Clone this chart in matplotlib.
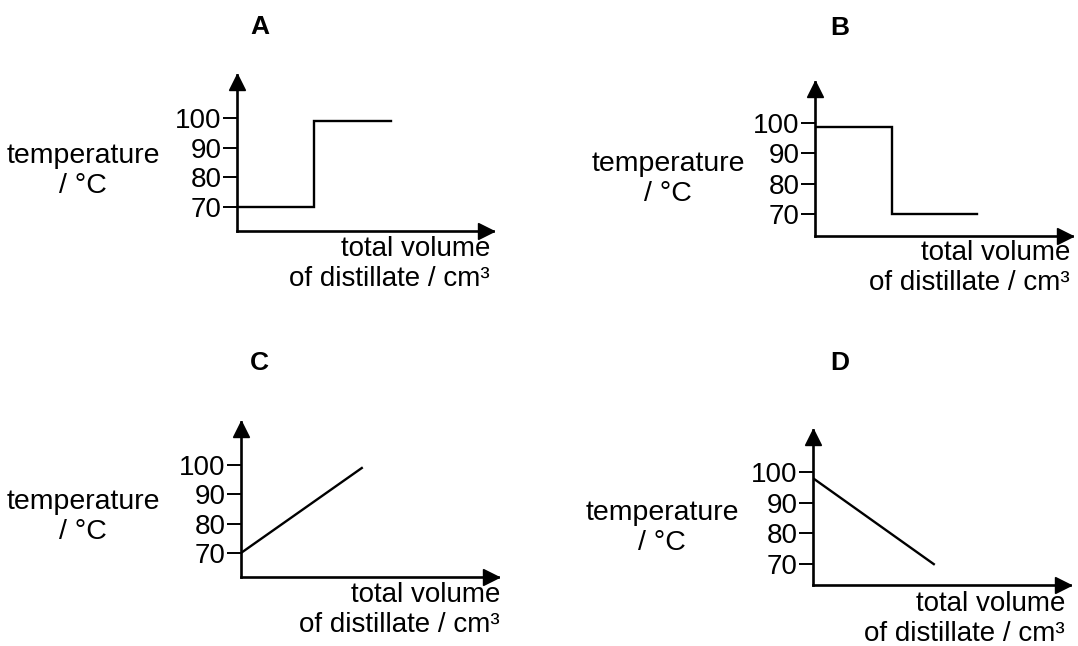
import numpy as np
import matplotlib
matplotlib.use("Agg")
import matplotlib.pyplot as plt

plt.rcParams['font.family'] = ['Liberation Sans', 'DejaVu Sans']

W, H = 1078, 646

# data: temperature against total volume of distillate (arbitrary volume units)
panel_names = ["A", "B", "C", "D"]
vol_a = [0, 3.0, 3.0, 6.0]
temp_a = [70, 70, 99, 99]
vol_b = [0, 3.0, 3.0, 6.3]
temp_b = [98.5, 98.5, 70, 70]
vol_c = [0, 4.7]
temp_c = [70, 99]
vol_d = [0, 4.7]
temp_d = [98, 70]
temp_ticks = [70, 80, 90, 100]
ylabel_text = "temperature\n/ °C"
xlabel_text = "total volume\nof distillate / cm³"

series = {"A": (vol_a, temp_a), "B": (vol_b, temp_b),
          "C": (vol_c, temp_c), "D": (vol_d, temp_d)}

# layout in pixels: origin x, origin y, arrow tip x, arrow tip y, ylim
layout = {
    "A": dict(x0=237, y0=231, xt=493, yt=75, ylim=(61.9, 114.5),
              title=(260, 27), ylab=(83, 171), xlab=(490, 264)),
    "B": dict(x0=815, y0=236, xt=1072, yt=82, ylim=(62.7, 113.5),
              title=(840, 28), ylab=(668, 179), xlab=(1070, 268)),
    "C": dict(x0=241, y0=577, xt=498, yt=422, ylim=(61.8, 114.7),
              title=(259, 363), ylab=(83, 517), xlab=(500, 610)),
    "D": dict(x0=813, y0=585, xt=1070, yt=430, ylim=(63.2, 113.7),
              title=(840, 363), ylab=(662, 528), xlab=(1065, 619)),
}

fig = plt.figure(figsize=(W / 100, H / 100), dpi=100)
fig.patch.set_facecolor("white")

for name in panel_names:
    L = layout[name]
    wpx = L["xt"] - L["x0"]
    hpx = L["y0"] - L["yt"]
    rect = [L["x0"] / W, 1 - L["y0"] / H, wpx / W, hpx / H]
    ax = fig.add_axes(rect)
    x, y = series[name]
    ax.plot(x, y, color="black", lw=1.7, solid_joinstyle="miter")
    ax.set_xlim(0, 10)
    ax.set_ylim(*L["ylim"])
    ax.spines["top"].set_visible(False)
    ax.spines["right"].set_visible(False)
    ax.spines["left"].set_linewidth(1.9)
    ax.spines["bottom"].set_linewidth(1.9)
    ax.set_xticks([])
    ax.set_yticks(temp_ticks)
    ax.set_yticklabels([str(t) for t in temp_ticks], fontsize=20)
    ax.tick_params(axis="y", direction="out", length=10, width=1.4, pad=1)
    ax.patch.set_alpha(0)
    # arrow heads, tip sitting at the end of each axis
    ax.plot(1 - 7 / wpx, 0, ">", color="black", ms=11,
            transform=ax.transAxes, clip_on=False)
    ax.plot(0, 1 - 7 / hpx, "^", color="black", ms=11,
            transform=ax.transAxes, clip_on=False)

    fig.text(L["title"][0] / W, 1 - L["title"][1] / H, name, fontsize=19,
             fontweight="bold", ha="center", va="center")
    fig.text(L["ylab"][0] / W, 1 - L["ylab"][1] / H, ylabel_text, fontsize=20.5,
             ha="center", va="center", linespacing=1.2)
    fig.text(L["xlab"][0] / W, 1 - L["xlab"][1] / H, xlabel_text, fontsize=20,
             ha="right", va="center", multialignment="right", linespacing=1.2)

fig.savefig("out.png", dpi=100, facecolor="white")
